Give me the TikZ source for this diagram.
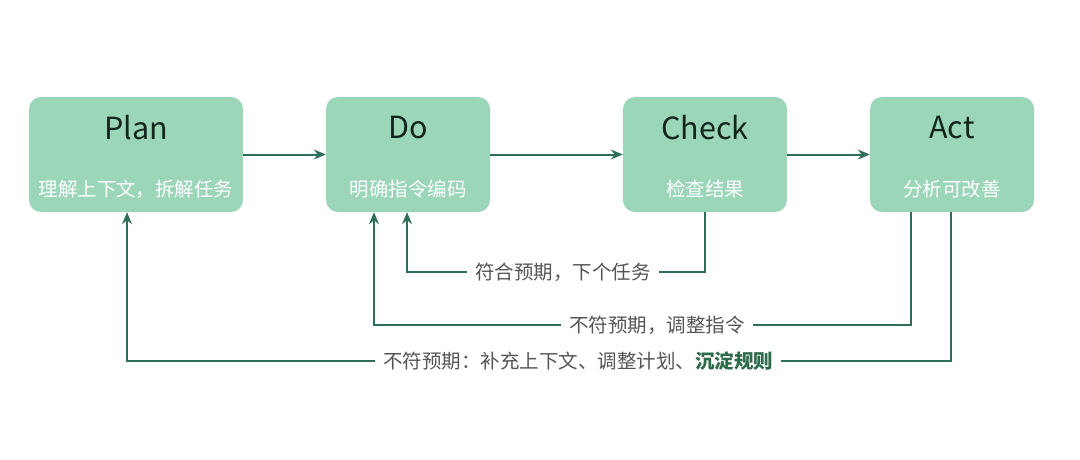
\documentclass[tikz,border=0pt]{standalone}
\usepackage{fontspec}
\setmainfont{Noto Sans CJK SC}
\usetikzlibrary{arrows.meta}
\definecolor{boxfill}{HTML}{9BD6B9}
\definecolor{linec}{HTML}{2F6F5A}
\definecolor{titlec}{HTML}{14261C}
\definecolor{labelc}{HTML}{555555}
\definecolor{boldc}{HTML}{2E6B4A}
\begin{document}
\begin{tikzpicture}[x=1pt,y=-1pt,
  stagebox/.style={fill=boxfill,rounded corners=12pt,minimum height=115pt,inner sep=0pt},
  titletext/.style={text=titlec,font=\fontsize{30.5}{36}\selectfont,inner sep=0pt},
  subtext/.style={text=white,font=\fontsize{19.5}{23}\selectfont,inner sep=0pt},
  tip/.style={-{Stealth[length=12pt,width=10pt]}},
  flow/.style={draw=linec,line width=2pt,tip},
  fb/.style={draw=linec,line width=1.6pt,tip},
  fblabel/.style={fill=white,text=labelc,font=\fontsize{19.5}{23}\selectfont,inner xsep=8pt,inner ysep=2pt}]
\useasboundingbox[fill=white] (0,0) rectangle (1080,460);
% boxes
\node[stagebox,minimum width=214pt] (plan) at (136,154.5) {};
\node[stagebox,minimum width=164pt] (do) at (408,154.5) {};
\node[stagebox,minimum width=164pt] (check) at (705,154.5) {};
\node[stagebox,minimum width=164pt] (act) at (952,154.5) {};
% titles
\node[titletext] (planT) at (136,128) {Plan};
\node[titletext] (doT) at (408,128) {Do};
\node[titletext] (checkT) at (705,128) {Check};
\node[titletext] (actT) at (952,128) {Act};
% subtitles
\node[subtext] (planS) at (136,189) {理解上下文，拆解任务};
\node[subtext] (doS) at (408,189) {明确指令编码};
\node[subtext] (checkS) at (705,189) {检查结果};
\node[subtext] (actS) at (952,189) {分析可改善};
% forward arrows
\draw[flow] (plan.east) -- (do.west);
\draw[flow] (do.east) -- (check.west);
\draw[flow] (check.east) -- (act.west);
% feedback paths
\coordinate (c1) at (705,272);
\coordinate (c1e) at (407,272);
\draw[fb] (check.south) -- (c1) -- (c1e) -- (c1e |- do.south);
\coordinate (a1) at (911,325);
\coordinate (a1e) at (374,325);
\draw[fb] (a1 |- act.south) -- (a1) -- (a1e) -- (a1e |- do.south);
\coordinate (a2) at (951,361);
\coordinate (a2e) at (127,361);
\draw[fb] (a2 |- act.south) -- (a2) -- (a2e) -- (a2e |- plan.south);
% labels
\node[fblabel] (l1) at (563,272) {符合预期，下个任务};
\node[fblabel] (l2) at (657,325) {不符预期，调整指令};
\node[fblabel] (l3) at (578,361) {不符预期：补充上下文、调整计划、\textcolor{boldc}{\bfseries 沉淀规则}};
\end{tikzpicture}
\end{document}
